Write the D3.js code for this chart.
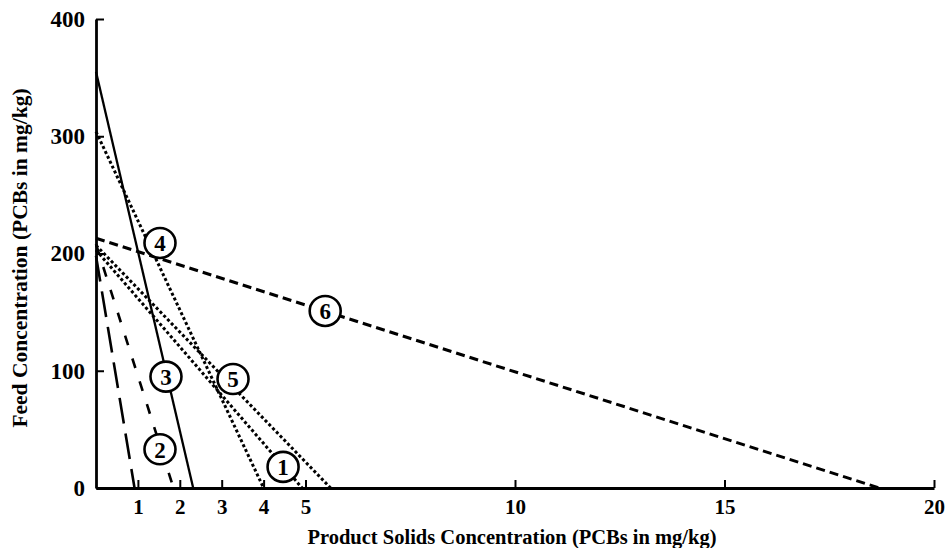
<!DOCTYPE html>
<html>
<head>
<meta charset="utf-8">
<script src="https://cdn.jsdelivr.net/npm/d3@7"></script>
<style>
  html, body { margin: 0; padding: 0; background: #fff; }
  svg { display: block; }
  text { font-family: "Liberation Serif", "Times New Roman", serif; font-weight: bold; fill: #000; }
</style>
</head>
<body>
<svg id="chart" width="949" height="548"></svg>
<script>
// Curve identifiers (empty string = unlabeled curve)
const curveIds = ["1", "2", "3", "4", "5", "6", ""];
// Feed concentration at zero product concentration (y-intercepts, mg/kg)
const feedIntercepts = [203, 208, 355, 304, 207, 213, 198];
// Product solids concentration at zero feed (x-intercepts, mg/kg)
const productIntercepts = [4.92, 1.85, 2.32, 4.0, 5.6, 18.7, 0.92];
// Where each circled number sits, in data units
const labelProduct = [4.465, 1.527, 1.67, 1.527, 3.27, 5.47];
const labelFeed = [18, 33, 95, 209, 93, 151];

const xTicks = [1, 2, 3, 4, 5, 10, 15, 20];
const yTicks = [0, 100, 200, 300, 400];

// Stroke styles per curve
const styles = {
  "1": { dash: "3,2.4", width: 3 },
  "2": { dash: "10,14", width: 2.6 },
  "3": { dash: null, width: 2.3 },
  "4": { dash: "3,2.4", width: 3 },
  "5": { dash: "3,2.4", width: 3 },
  "6": { dash: "9,5", width: 3 },
  "":  { dash: "26,10", width: 2.6 }
};

const svg = d3.select("#chart");
svg.append("rect").attr("width", 949).attr("height", 548).attr("fill", "#fff");

const x = d3.scaleLinear().domain([0, 20]).range([96, 934]);
const y = d3.scaleLinear().domain([0, 400]).range([488, 19]);

// Curves: straight segments from the feed axis to the product axis
const line = d3.line().x(d => x(d[0])).y(d => y(d[1]));
const curves = curveIds.map((id, i) => ({
  id,
  pts: [[0, feedIntercepts[i]], [productIntercepts[i], 0]]
}));

svg.append("g").selectAll("path")
  .data(curves)
  .join("path")
  .attr("d", d => line(d.pts))
  .attr("fill", "none")
  .attr("stroke", "#000")
  .attr("stroke-width", d => styles[d.id].width)
  .attr("stroke-dasharray", d => styles[d.id].dash);

// Circled curve numbers
const labels = curveIds.slice(0, labelProduct.length).map((id, i) => ({
  id, px: labelProduct[i], fy: labelFeed[i]
}));
const lg = svg.append("g").selectAll("g")
  .data(labels)
  .join("g")
  .attr("transform", d => `translate(${x(d.px)},${y(d.fy)})`);
lg.append("ellipse")
  .attr("rx", 15.5).attr("ry", 15)
  .attr("fill", "#fff")
  .attr("stroke", "#000")
  .attr("stroke-width", 2.6);
lg.append("text")
  .attr("text-anchor", "middle")
  .attr("dy", "0.36em")
  .attr("font-size", 23)
  .text(d => d.id);

// Axes with inward ticks
const xAxis = svg.append("g")
  .attr("transform", `translate(0,${y(0)})`)
  .call(d3.axisBottom(x).tickValues(xTicks).tickFormat(d3.format("d"))
    .tickSizeInner(-8).tickSizeOuter(0).tickPadding(11));
xAxis.select(".domain").attr("stroke-width", 2.8);
xAxis.selectAll(".tick line").attr("stroke-width", 2);
xAxis.selectAll("text").attr("font-size", 21).attr("font-family", null);

const yAxis = svg.append("g")
  .attr("transform", `translate(${x(0)},0)`)
  .call(d3.axisLeft(y).tickValues(yTicks).tickFormat(d3.format("d"))
    .tickSizeInner(-8).tickSizeOuter(0).tickPadding(11));
yAxis.select(".domain").attr("stroke-width", 2.8);
yAxis.selectAll(".tick line").attr("stroke-width", 2);
yAxis.selectAll("text").attr("font-size", 23).attr("font-family", null);

// Axis titles
svg.append("text")
  .attr("x", 512).attr("y", 544)
  .attr("text-anchor", "middle")
  .attr("font-size", 20.5)
  .text("Product Solids Concentration (PCBs in mg/kg)");

svg.append("text")
  .attr("transform", "translate(27,258) rotate(-90)")
  .attr("text-anchor", "middle")
  .attr("font-size", 21.5)
  .text("Feed Concentration (PCBs in mg/kg)");
</script>
</body>
</html>
